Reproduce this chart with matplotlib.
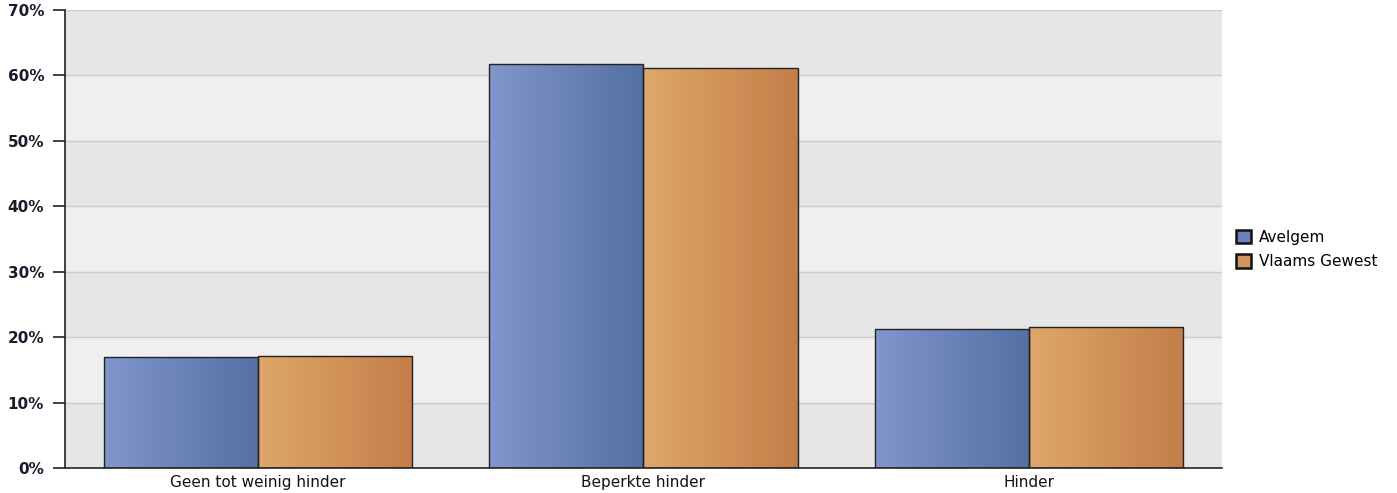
import numpy as np
import matplotlib
matplotlib.use("Agg")
import matplotlib.pyplot as plt
from matplotlib.patches import Patch
from matplotlib.colors import LinearSegmentedColormap

# data (percent)
categories = ["Geen tot weinig hinder", "Beperkte hinder", "Hinder"]
avelgem = [17.0, 61.7, 21.2]
vlaams = [17.1, 61.2, 21.5]
series_names = ["Avelgem", "Vlaams Gewest"]
yticks = [0, 10, 20, 30, 40, 50, 60, 70]

blue_cmap = LinearSegmentedColormap.from_list("b", ["#8196cd", "#5470a4"])
orange_cmap = LinearSegmentedColormap.from_list("o", ["#dea76b", "#c47e49"])

fig = plt.figure(figsize=(13.97, 4.93), dpi=100)
ax = fig.add_axes([0.0465, 0.0507, 0.8282, 0.929])

# alternating background bands
for i in range(len(yticks) - 1):
    col = "#e6e6e6" if i % 2 == 0 else "#efefef"
    ax.axhspan(yticks[i], yticks[i + 1], color=col, zorder=0, lw=0)
for t in yticks[1:]:
    ax.axhline(t, color="#cccccc", lw=1, zorder=0.5)

x = np.arange(len(categories))
w = 0.4
b1 = ax.bar(x - w / 2, avelgem, w, color="none", edgecolor="#222222", lw=1, zorder=3)
b2 = ax.bar(x + w / 2, vlaams, w, color="none", edgecolor="#222222", lw=1, zorder=3)

# horizontal gradient fill for each bar
grad = np.linspace(0, 1, 256).reshape(1, -1)
for bars, cmap in [(b1, blue_cmap), (b2, orange_cmap)]:
    for r in bars:
        x0, y0 = r.get_xy()
        im = ax.imshow(grad, cmap=cmap, aspect="auto", zorder=2,
                       extent=[x0, x0 + r.get_width(), y0, y0 + r.get_height()])
        im.set_clip_path(r)

ax.set_xlim(-0.5, len(categories) - 0.5)
ax.set_ylim(0, 70)
ax.set_yticks(yticks)
ax.set_yticklabels([f"{t}%" for t in yticks], fontsize=11, fontweight="bold", color="#1a1a2a")
ax.set_xticks(x)
ax.set_xticklabels(categories, fontsize=11, color="#111111")
ax.tick_params(axis="x", length=0, pad=5)
ax.tick_params(axis="y", length=9, width=1.2, color="#222222", pad=6)
for s in ["top", "right"]:
    ax.spines[s].set_visible(False)
for s in ["left", "bottom"]:
    ax.spines[s].set_color("#222222")
    ax.spines[s].set_linewidth(1.2)

handles = [Patch(facecolor="#6a82ba", edgecolor="#111111", lw=1.8),
           Patch(facecolor="#d2955c", edgecolor="#111111", lw=1.8)]
fig.legend(handles, series_names, loc="center left", bbox_to_anchor=(0.8805, 0.494),
           frameon=False, fontsize=11, handlelength=1.0, handleheight=1.0,
           handletextpad=0.5, labelspacing=0.6, borderaxespad=0)

fig.savefig("out.png", dpi=100)
